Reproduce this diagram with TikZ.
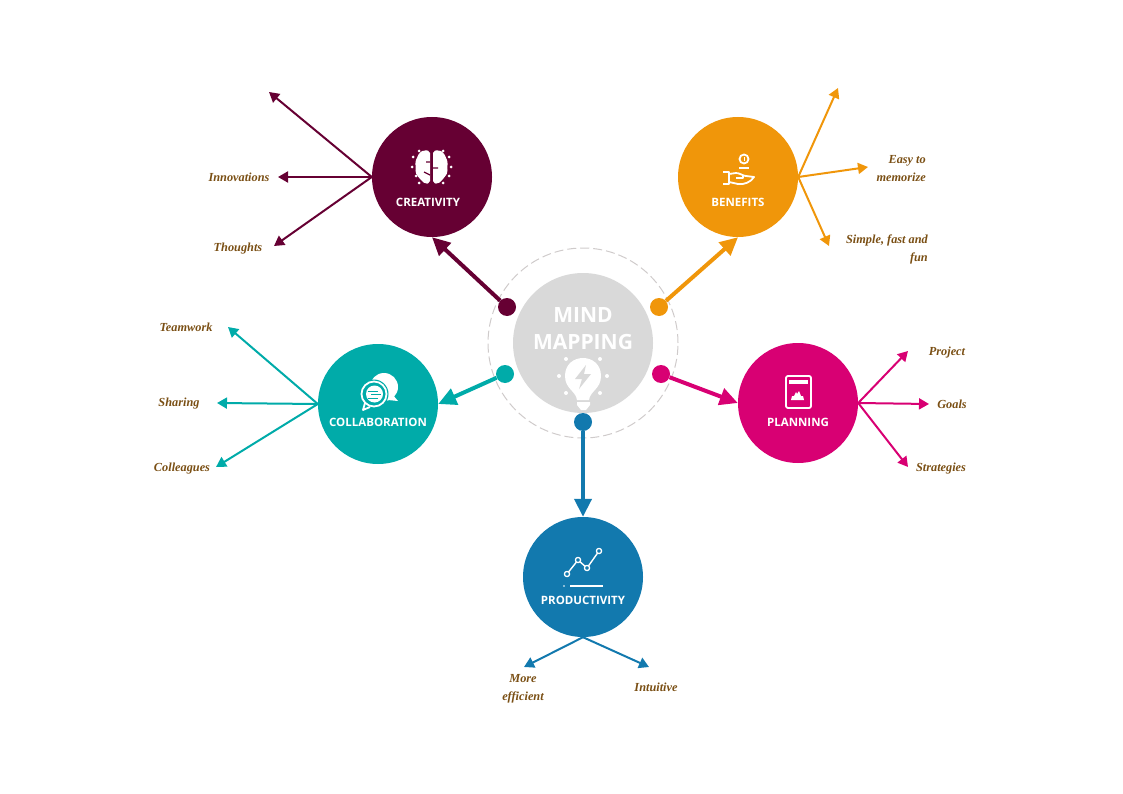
\documentclass[tikz,border=0pt]{standalone}
\usepackage{fontspec}
\setmainfont{Open Sans}
\newfontfamily\notefont{Liberation Serif}
\usetikzlibrary{arrows.meta}
\definecolor{cCreat}{HTML}{660033}
\definecolor{cBenef}{HTML}{F0960A}
\definecolor{cColla}{HTML}{00ABA9}
\definecolor{cPlann}{HTML}{D80073}
\definecolor{cProdu}{HTML}{1279AE}
\definecolor{cHub}{HTML}{D9D9D9}
\definecolor{cRing}{HTML}{CFCBCB}
\definecolor{cNote}{HTML}{7A4F14}
\tikzset{
	topic/.style={circle,inner sep=0,minimum size=120pt,fill=#1},
	knob/.style={circle,inner sep=0,minimum size=18pt,fill=#1},
	title/.style={text=white,font=\bfseries\fontsize{11.5}{14}\selectfont,inner sep=0},
	note/.style={text=cNote,font=\notefont\bfseries\itshape\fontsize{12.3}{18}\selectfont,inner sep=0},
	trunk/.style={draw=#1,line width=4pt,-{Triangle[length=18pt,width=17pt]}},
	leaf/.style={draw=#1,line width=2pt,-{Triangle[length=10pt,width=11pt]}},
	icon/.style={draw=white,line width=1.8pt,line join=round}
}
\begin{document}
\begin{tikzpicture}[x=1pt,y=-1pt]
\useasboundingbox (0,0) rectangle (1123,794);

% hub
\node[circle,inner sep=0,minimum size=190pt,draw=cRing,line width=1pt,dash pattern=on 9pt off 4pt] (ring) at (583,343) {};
\node[circle,inner sep=0,minimum size=140pt,fill=cHub] (hub) at (583,343) {};
\node[title,font=\bfseries\fontsize{21}{24}\selectfont] (mind) at (583,315) {MIND};
\node[title,font=\bfseries\fontsize{21}{24}\selectfont] (mapping) at (583,342) {MAPPING};

% bulb
\fill[white] (577,400) .. controls (576,391) and (565,389) .. (565,376) .. controls (565,352) and (601,352) .. (601,376) .. controls (601,389) and (590,391) .. (589,400) -- cycle;
\fill[white] (577,402) -- (590,402) -- (590,405) -- (586,410) -- (581,410) -- (577,405) -- cycle;
\fill[cHub] (586,365) -- (575,379) -- (582,379) -- (579,389) -- (591,374) -- (584,374) -- cycle;
\foreach \p in {(566,359),(600,359),(559,376),(607,376),(566,393),(600,393)}
	\fill[white] \p circle [radius=2pt];

% topics
\node[topic=cCreat] (creativity) at (432,177) {};
\node[topic=cBenef] (benefits) at (738,177) {};
\node[topic=cColla] (collaboration) at (378,404) {};
\node[topic=cPlann] (planning) at (798,403) {};
\node[topic=cProdu] (productivity) at (583,577) {};

\node[title] (creativity_t) at (428,202) {CREATIVITY};
\node[title] (benefits_t) at (738,202) {BENEFITS};
\node[title] (collaboration_t) at (378,422) {COLLABORATION};
\node[title] (planning_t) at (798,422) {PLANNING};
\node[title] (productivity_t) at (583,600) {PRODUCTIVITY};

% knobs
\node[knob=cCreat] (k_creativity) at (507,307) {};
\node[knob=cBenef] (k_benefits) at (659,307) {};
\node[knob=cColla] (k_collaboration) at (505,374) {};
\node[knob=cPlann] (k_planning) at (661,374) {};
\node[knob=cProdu] (k_productivity) at (583,422) {};

\draw[trunk=cCreat] (k_creativity) -- (creativity.south);
\draw[trunk=cBenef] (k_benefits) -- (benefits.south);
\draw[trunk=cColla] (k_collaboration) -- (collaboration.east);
\draw[trunk=cPlann] (k_planning) -- (planning.west);
\draw[trunk=cProdu] (k_productivity) -- (productivity.north);

% leaf ends
\coordinate (c_a) at (269,92);
\coordinate (c_b) at (278,177);
\coordinate (c_c) at (274,246);
\coordinate (b_a) at (838,88);
\coordinate (b_b) at (868,167);
\coordinate (b_c) at (829,246);
\coordinate (l_a) at (228,327);
\coordinate (l_b) at (217,403);
\coordinate (l_c) at (216,467);
\coordinate (p_a) at (908,351);
\coordinate (p_b) at (929,404);
\coordinate (p_c) at (908,467);
\coordinate (r_a) at (524,667);
\coordinate (r_b) at (649,667);

\foreach \n in {c_a,c_b,c_c}
	\draw[leaf=cCreat] (creativity.west) -- (\n);
\foreach \n in {b_a,b_b,b_c}
	\draw[leaf=cBenef] (benefits.east) -- (\n);
\foreach \n in {l_a,l_b,l_c}
	\draw[leaf=cColla] (collaboration.west) -- (\n);
\foreach \n in {p_a,p_b,p_c}
	\draw[leaf=cPlann] (planning.east) -- (\n);
\foreach \n in {r_a,r_b}
	\draw[leaf=cProdu] (productivity.south) -- (\n);

% notes
\node[note] (n_innovations) at (239,177) {Innovations};
\node[note] (n_thoughts) at (238,249) {Thoughts};
\node[note,align=right,anchor=east] (n_easy) at (926,169) {Easy to\\memorize};
\node[note,align=right,anchor=east] (n_simple) at (928,249) {Simple, fast and\\fun};
\node[note] (n_teamwork) at (186,327) {Teamwork};
\node[note] (n_sharing) at (179,404) {Sharing};
\node[note] (n_colleagues) at (182,469) {Colleagues};
\node[note] (n_project) at (947,353) {Project};
\node[note] (n_goals) at (952,404) {Goals};
\node[note] (n_strategies) at (941,469) {Strategies};
\node[note,align=center] (n_more) at (523,689) {More\\efficient};
\node[note] (n_intuitive) at (656,687) {Intuitive};

% brain
\fill[white,rounded corners=2pt] (430,151) -- (424,150) -- (419,153) -- (417,158) -- (415,162) -- (416,168) -- (415,172) -- (419,178) -- (425,184) -- (430,183) -- cycle;
\fill[white,rounded corners=2pt] (433,151) -- (439,150) -- (444,153) -- (446,158) -- (448,162) -- (447,168) -- (448,172) -- (444,178) -- (438,184) -- (433,183) -- cycle;
\draw[cCreat,line width=1.2pt] (426,162) -- (430,162) (433,168) -- (438,168) (424,172) -- (430,175);
\foreach \p in {(419,151),(443,151),(413,157),(449,157),(412,167),(451,167),(416,176),(449,176),(419,183),(443,183)}
	\fill[white] \p circle [radius=1.5pt];

% hand and coin
\draw[icon] (744,159) circle [radius=4.5pt];
\fill[white] (743.5,157) rectangle (744.8,161);
\draw[icon] (739,168) -- (749,168);
\draw[icon] (723,172) -- (729,172) .. controls (729,178) and (729,178) .. (729,184) -- (723,184);
\draw[icon] (729,174) -- (736,173) .. controls (740,173) and (743,176) .. (746,176) -- (754,177) .. controls (751,182) and (744,185) .. (738,184) -- (729,182);
\draw[icon] (736,178) -- (743,178) -- (743,176);

% chat bubbles
\fill[white] (384,387) circle [radius=14pt];
\fill[white] (392,394) -- (398,401) -- (388,400) -- cycle;
\fill[cColla] (374,394) circle [radius=14.5pt];
\fill[cColla] (362,402) -- (360,411) -- (372,408) -- cycle;
\draw[icon] (374,394) circle [radius=12.5pt];
\fill[white] (374.5,394) circle [radius=8.5pt];
\draw[cColla,line width=1pt] (368,391) -- (378,391) (371,394.5) -- (381,394.5) (368,398) -- (378,398);
\draw[icon] (365,403) -- (363,410) -- (370,407);

% tablet
\draw[icon,rounded corners=2pt] (786,376) rectangle (811,408);
\fill[white] (789,380) rectangle (808,384);
\fill[white] (791,400) -- (792,396) -- (794,396) -- (796,392) -- (797,394) -- (799,391) -- (801,396) -- (803,396) -- (804,400) -- cycle;

% chart
\draw[icon,line width=1.4pt] (567,574) -- (578,560) -- (587,568) -- (599,551);
\foreach \p in {(567,574),(578,560),(587,568),(599,551)}
	\draw[icon,line width=1.3pt,fill=cProdu] \p circle [radius=2.6pt];
\draw[icon,line width=1.3pt] (570,586) -- (603,586);
\fill[white] (564,586) circle [radius=.8pt];

\end{tikzpicture}
\end{document}
